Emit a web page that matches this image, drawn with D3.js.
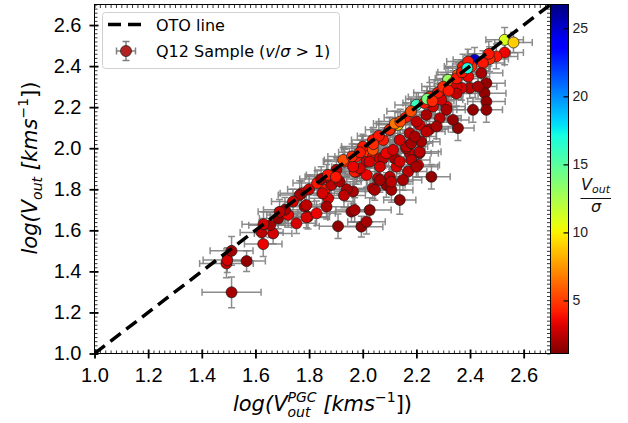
<!DOCTYPE html>
<html>
<head>
<meta charset="utf-8">
<script src="https://cdn.jsdelivr.net/npm/d3@7"></script>
<style>
  body { margin: 0; background: #fff; }
  svg { font-family: 'DejaVu Sans', sans-serif; }
</style>
</head>
<body>
<svg id="chart" width="628" height="423"></svg>
<script>
// log(V_out^PGC) per galaxy
const logVpgc = [
  1.511, 1.492, 1.495, 1.511, 1.567, 1.629, 1.623, 1.666, 1.655, 1.685,
  1.722, 1.753, 1.784, 1.796, 1.772, 1.710, 1.765, 1.790, 1.790, 1.828,
  1.858, 1.871, 1.865, 1.883, 1.914, 1.908, 1.865, 1.902, 1.933, 1.927,
  1.800, 1.830, 1.845, 1.964, 1.958, 1.970, 1.995, 2.014, 2.026, 1.976,
  2.014, 2.038, 2.057, 2.088, 2.107, 2.101, 2.126, 2.138, 2.169, 2.206,
  2.014, 1.970, 1.989, 2.045, 1.976, 2.001, 2.020, 2.038, 2.038, 2.026,
  1.964, 2.064, 2.076, 2.119, 2.175, 2.212, 2.064, 2.064, 2.107, 2.150,
  2.138, 2.181, 2.200, 2.162, 2.212, 2.218, 2.256, 2.088, 2.001, 2.038,
  2.076, 2.131, 2.200, 2.318, 2.417, 2.529, 2.562, 2.529, 2.498, 2.473,
  2.448, 2.405, 2.442, 2.461, 2.454, 2.461, 2.461, 2.411, 2.355, 2.393,
  2.399, 2.430, 2.368, 2.336, 2.355, 2.374, 2.393, 2.262, 2.349, 2.212,
  2.175, 2.113, 2.162, 2.249, 2.287, 2.312, 2.287, 2.249, 2.237, 2.200,
  2.138, 2.101, 2.181, 2.237, 2.275, 2.312, 2.293, 2.349, 2.336, 2.194,
  1.740, 1.870, 1.960, 1.990, 2.060, 2.100, 2.120, 2.160, 2.180, 2.230,
  2.250, 2.280, 2.300, 2.350, 2.370, 2.390, 2.470, 2.240, 1.940, 1.930,
  1.850, 1.690, 1.630, 1.900, 2.040, 2.140, 2.260, 2.320
]
// log(V_out)
const logVout = [
  1.298, 1.439, 1.455, 1.500, 1.450, 1.533, 1.590, 1.585, 1.625, 1.658,
  1.675, 1.634, 1.715, 1.666, 1.780, 1.700, 1.772, 1.723, 1.663, 1.683,
  1.797, 1.756, 1.715, 1.821, 1.837, 1.620, 1.861, 1.894, 1.935, 1.943,
  1.800, 1.830, 1.850, 1.789, 1.691, 1.699, 1.618, 1.642, 1.699, 1.885,
  1.870, 1.805, 1.854, 1.821, 1.797, 1.861, 1.910, 1.748, 1.886, 1.918,
  1.934, 1.886, 1.902, 1.797, 1.959, 2.000, 1.983, 1.959, 2.040, 1.935,
  1.910, 1.951, 1.951, 1.951, 1.976, 1.976, 1.910, 1.845, 1.837, 1.845,
  1.935, 1.943, 1.910, 2.000, 1.983, 2.032, 1.861, 1.976, 2.008, 1.992,
  2.040, 2.114, 2.211, 2.333, 2.431, 2.528, 2.515, 2.466, 2.447, 2.434,
  2.415, 2.398, 2.366, 2.317, 2.268, 2.227, 2.187, 2.187, 2.098, 2.349,
  2.293, 2.300, 2.293, 2.317, 2.358, 2.398, 2.422, 2.203, 2.300, 2.114,
  2.073, 1.992, 2.008, 2.092, 2.146, 2.203, 2.252, 2.227, 2.162, 2.130,
  2.040, 2.089, 2.024, 2.081, 2.106, 2.187, 2.236, 2.266, 2.138, 2.057,
  1.740, 1.870, 1.960, 1.980, 2.060, 2.090, 2.120, 2.150, 2.180, 2.220,
  2.250, 2.270, 2.300, 2.340, 2.370, 2.390, 2.460, 2.240, 1.800, 1.770,
  1.780, 1.690, 1.630, 1.860, 2.020, 2.130, 2.230, 2.280
]
// V_out / sigma
const ratio = [
  2.0, 2.5, 3.0, 2.0, 1.5, 3.5, 2.5, 3.0, 2.0, 1.5,
  3.5, 3.0, 2.0, 3.0, 3.5, 2.0, 2.0, 2.5, 3.0, 3.5,
  4.0, 3.0, 2.0, 2.5, 2.0, 1.5, 3.0, 2.5, 4.5, 5.5,
  3.0, 4.0, 2.0, 2.0, 1.5, 2.0, 1.5, 2.0, 1.5, 3.0,
  3.5, 2.5, 3.0, 1.5, 2.0, 2.5, 3.0, 1.5, 2.5, 3.0,
  3.0, 4.0, 3.0, 2.0, 4.0, 5.5, 5.0, 4.0, 4.0, 3.0,
  3.5, 3.0, 2.5, 2.0, 2.5, 2.0, 3.0, 2.0, 2.5, 2.0,
  3.0, 2.5, 2.0, 3.0, 2.5, 2.0, 1.5, 3.5, 4.0, 5.5,
  4.0, 9.0, 16.0, 13.0, 25.0, 11.0, 9.0, 3.5, 4.0, 4.5,
  4.0, 4.5, 2.0, 1.5, 1.5, 1.5, 1.5, 1.5, 1.5, 3.5,
  2.5, 2.0, 3.0, 6.5, 6.0, 4.0, 4.0, 3.0, 3.0, 3.0,
  2.5, 3.0, 2.5, 2.0, 2.5, 3.5, 4.0, 3.0, 2.0, 2.5,
  3.0, 4.0, 2.0, 2.5, 2.0, 2.0, 3.0, 2.5, 1.5, 2.0,
  3.0, 4.0, 4.5, 4.0, 4.0, 4.5, 6.5, 4.0, 5.5, 4.0,
  4.5, 4.0, 4.5, 4.0, 4.0, 17.0, 4.0, 14.0, 2.0, 2.5,
  3.0, 2.5, 3.0, 4.0, 4.5, 5.5, 4.5, 4.0
]
const errPgc = [
  .11, .10, .09, .08, .07, .07, .08, .07, .08, .07,
  .08, .07, .08, .08, .08, .08, .08, .07, .08, .07,
  .08, .07, .08, .07, .08, .07, .08, .08, .08, .07,
  .08, .09, .08, .07, .08, .07, .08, .07, .08, .07,
  .08, .07, .08, .07, .08, .07, .08, .06, .07, .08,
  .07, .08, .07, .07, .08, .08, .07, .08, .08, .07,
  .08, .07, .08, .07, .08, .07, .08, .07, .08, .07,
  .08, .07, .08, .07, .08, .07, .07, .08, .08, .07,
  .08, .08, .08, .07, .08, .07, .07, .07, .08, .07,
  .08, .07, .08, .07, .08, .07, .06, .06, .06, .08,
  .07, .07, .08, .07, .08, .07, .08, .07, .08, .07,
  .08, .07, .08, .07, .08, .07, .08, .07, .08, .07,
  .08, .07, .08, .07, .08, .07, .08, .07, .06, .08,
  .08, .08, .09, .08, .08, .09, .08, .08, .09, .08,
  .08, .09, .08, .08, .09, .08, .08, .08, .07, .08,
  .07, .08, .08, .08, .08, .08, .08, .08
]
const errOut = [
  .075, .07, .06, .07, .05, .06, .06, .05, .06, .05,
  .06, .05, .06, .06, .06, .06, .07, .06, .05, .06,
  .06, .05, .06, .06, .06, .06, .06, .06, .06, .06,
  .07, .06, .06, .06, .05, .06, .05, .06, .06, .06,
  .06, .05, .06, .06, .06, .05, .06, .07, .06, .06,
  .06, .06, .06, .05, .06, .06, .06, .05, .06, .06,
  .06, .06, .05, .06, .06, .05, .06, .06, .06, .05,
  .06, .06, .05, .06, .06, .06, .06, .06, .06, .06,
  .06, .06, .06, .06, .06, .06, .05, .06, .06, .06,
  .06, .06, .05, .06, .06, .05, .06, .06, .06, .06,
  .05, .06, .06, .06, .06, .06, .06, .06, .05, .06,
  .06, .06, .05, .06, .06, .06, .06, .05, .06, .06,
  .06, .06, .05, .06, .06, .06, .05, .06, .06, .06,
  .06, .07, .06, .06, .07, .06, .06, .07, .06, .06,
  .07, .06, .06, .07, .06, .06, .06, .06, .06, .06,
  .05, .06, .06, .06, .06, .06, .06, .06
]

const axisTicks = [1.0, 1.2, 1.4, 1.6, 1.8, 2.0, 2.2, 2.4, 2.6]
const cbarTicks = [5, 10, 15, 20, 25]
const cbarDomain = [1.1, 26.75]

const data = logVpgc.map((d, i) => ({
  x: d, y: logVout[i], r: ratio[i], ex: errPgc[i], ey: errOut[i]
}))

// matplotlib 'jet' segments, used reversed (jet_r)
const jetR = d3.scaleLinear().domain([0, 0.35, 0.66, 0.89, 1]).range([0, 0, 1, 1, 0.5]).clamp(true)
const jetG = d3.scaleLinear().domain([0, 0.125, 0.375, 0.64, 0.91, 1]).range([0, 0, 1, 1, 0, 0]).clamp(true)
const jetB = d3.scaleLinear().domain([0, 0.11, 0.34, 0.65, 1]).range([0.5, 1, 1, 0, 0]).clamp(true)
const jet = t => d3.rgb(255 * jetR(t), 255 * jetG(t), 255 * jetB(t)).formatHex()
const norm = d3.scaleLinear().domain(cbarDomain).range([0, 1]).clamp(true)
const colorOf = v => jet(1 - norm(v))

const svg = d3.select('#chart')
const pL = 94.5
const pR = 550.5
const pT = 4.5
const pB = 353.5

const x = d3.scaleLinear().domain([1.0, 2.7]).range([pL, pR])
const y = d3.scaleLinear().domain([1.0, 2.7]).range([pB, pT])
const minor = d3.range(50, 136).map(i => i / 50)

svg.append('defs').append('clipPath').attr('id', 'plotclip')
  .append('rect').attr('x', pL).attr('y', pT).attr('width', pR - pL).attr('height', pB - pT)

const plot = svg.append('g').attr('clip-path', 'url(#plotclip)')

// error bars
const gErr = plot.append('g')
  .attr('stroke', '#808080').attr('stroke-opacity', 0.9).attr('stroke-width', 1.5).attr('fill', 'none')
const cap = 3.5
data.forEach(d => {
  const cx = x(d.x)
  const cy = y(d.y)
  const x0 = x(d.x - d.ex)
  const x1 = x(d.x + d.ex)
  const y0 = y(d.y - d.ey)
  const y1 = y(d.y + d.ey)
  gErr.append('path').attr('d',
    `M${x0},${cy}H${x1}M${cx},${y0}V${y1}` +
    `M${x0},${cy - cap}V${cy + cap}M${x1},${cy - cap}V${cy + cap}` +
    `M${cx - cap},${y0}H${cx + cap}M${cx - cap},${y1}H${cx + cap}`)
})

// markers
plot.append('g').selectAll('circle')
  .data(data)
  .enter()
  .append('circle')
  .attr('cx', d => x(d.x))
  .attr('cy', d => y(d.y))
  .attr('r', 5.5)
  .attr('fill', d => colorOf(d.r))
  .attr('stroke', '#1a1a1a')
  .attr('stroke-width', 0.7)

// one-to-one line
plot.append('line')
  .attr('x1', x(1.0)).attr('y1', y(1.0))
  .attr('x2', x(2.7)).attr('y2', y(2.7))
  .attr('stroke', '#000').attr('stroke-width', 3.5)
  .attr('stroke-dasharray', '13,7')

// axes
const styleAxis = (g, w) => {
  g.select('.domain').remove()
  g.selectAll('line').attr('stroke', '#000').attr('stroke-width', w)
  g.selectAll('text').attr('font-size', 20).attr('fill', '#000')
}
const fmt = d3.format('.1f')

svg.append('g').attr('transform', `translate(0,${pB})`)
  .call(d3.axisBottom(x).tickValues(axisTicks).tickSize(5).tickPadding(9).tickFormat(fmt))
  .call(g => styleAxis(g, 1.8))
svg.append('g').attr('transform', `translate(0,${pB})`)
  .call(d3.axisBottom(x).tickValues(axisTicks).tickSize(-4).tickFormat(''))
  .call(g => styleAxis(g, 1.8))
svg.append('g').attr('transform', `translate(0,${pB})`)
  .call(d3.axisBottom(x).tickValues(minor).tickSize(-3).tickFormat(''))
  .call(g => styleAxis(g, 0.8))

svg.append('g').attr('transform', `translate(${pL},0)`)
  .call(d3.axisLeft(y).tickValues(axisTicks).tickSize(5).tickPadding(8).tickFormat(fmt))
  .call(g => styleAxis(g, 1.8))
svg.append('g').attr('transform', `translate(${pL},0)`)
  .call(d3.axisLeft(y).tickValues(axisTicks).tickSize(-4).tickFormat(''))
  .call(g => styleAxis(g, 1.8))
svg.append('g').attr('transform', `translate(${pL},0)`)
  .call(d3.axisLeft(y).tickValues(minor).tickSize(-3).tickFormat(''))
  .call(g => styleAxis(g, 0.8))

svg.append('g').attr('transform', `translate(0,${pT})`)
  .call(d3.axisTop(x).tickValues(minor).tickSize(-3.5).tickFormat(''))
  .call(g => styleAxis(g, 0.8))
svg.append('g').attr('transform', `translate(${pR},0)`)
  .call(d3.axisRight(y).tickValues(minor).tickSize(-3.5).tickFormat(''))
  .call(g => styleAxis(g, 0.8))

svg.append('rect')
  .attr('x', pL).attr('y', pT).attr('width', pR - pL).attr('height', pB - pT)
  .attr('fill', 'none').attr('stroke', '#000').attr('stroke-width', 1)

// colorbar
const cbX = pR
const cbW = 18
const grad = svg.select('defs').append('linearGradient')
  .attr('id', 'cbgrad').attr('x1', 0).attr('y1', 1).attr('x2', 0).attr('y2', 0)
d3.range(0, 41).forEach(i => {
  grad.append('stop').attr('offset', i / 40).attr('stop-color', jet(1 - i / 40))
})
svg.append('rect')
  .attr('x', cbX).attr('y', pT).attr('width', cbW).attr('height', pB - pT)
  .attr('fill', 'url(#cbgrad)').attr('stroke', '#000').attr('stroke-width', 1)
const cScale = d3.scaleLinear().domain(cbarDomain).range([pB, pT])
svg.append('g').attr('transform', `translate(${cbX + cbW},0)`)
  .call(d3.axisRight(cScale).tickValues(cbarTicks).tickSize(-5).tickPadding(4))
  .call(g => {
    g.select('.domain').remove()
    g.selectAll('line').attr('stroke', '#000').attr('stroke-width', 1.2)
    g.selectAll('text').attr('font-size', 14).attr('fill', '#222')
  })

// colorbar label V_out / sigma
const cbl = svg.append('g').attr('font-style', 'italic').attr('fill', '#111')
const vt = cbl.append('text').attr('x', 581).attr('y', 190).attr('font-size', 16)
vt.append('tspan').text('V')
vt.append('tspan').attr('font-size', 11).attr('dy', 3).text('out')
cbl.append('line').attr('x1', 580.5).attr('x2', 611).attr('y1', 198.5).attr('y2', 198.5)
  .attr('stroke', '#111').attr('stroke-width', 1)
cbl.append('text').attr('x', 596).attr('y', 212).attr('font-size', 16)
  .attr('text-anchor', 'middle').text('σ')

// x label
const xl = svg.append('text').attr('font-size', 21).attr('font-style', 'italic').attr('fill', '#000')
  .attr('x', 0).attr('y', 411)
xl.append('tspan').text('log(V')
const tP = xl.append('tspan').attr('font-size', 14).attr('dy', -9).text('PGC')
const tO = xl.append('tspan').attr('font-size', 14).attr('dy', 15).text('out')
const wP = tP.node().getComputedTextLength()
const wO = tO.node().getComputedTextLength()
tO.attr('dx', -wP)
xl.append('tspan').attr('dy', -6).attr('dx', Math.max(wP - wO, 0)).text(' [kms')
xl.append('tspan').attr('font-size', 14).attr('dy', -9).attr('font-style', 'normal').text('−1')
xl.append('tspan').attr('dy', 9).attr('font-style', 'normal').text('])')
const xb = xl.node().getBBox()
xl.attr('x', 322.5 - xb.width / 2)

// y label
const yl = svg.append('text').attr('font-size', 21).attr('font-style', 'italic').attr('fill', '#000')
  .attr('text-anchor', 'middle')
  .attr('transform', 'translate(37,168) rotate(-90)')
yl.append('tspan').text('log(V')
yl.append('tspan').attr('font-size', 14).attr('dy', 5).text('out')
yl.append('tspan').attr('dy', -5).text(' [kms')
yl.append('tspan').attr('font-size', 14).attr('dy', -9).attr('font-style', 'normal').text('−1')
yl.append('tspan').attr('dy', 9).attr('font-style', 'normal').text('])')

// legend
const lg = svg.append('g')
lg.append('rect').attr('x', 102.5).attr('y', 12.5).attr('width', 237).attr('height', 56).attr('rx', 3)
  .attr('fill', '#fff').attr('fill-opacity', 0.85).attr('stroke', '#d0d0d0').attr('stroke-width', 1)
lg.append('line').attr('x1', 108).attr('x2', 142).attr('y1', 24.5).attr('y2', 24.5)
  .attr('stroke', '#000').attr('stroke-width', 3.5).attr('stroke-dasharray', '13,7')
lg.append('text').attr('x', 156).attr('y', 30.5).attr('font-size', 16).text('OTO line')
lg.append('path')
  .attr('d', 'M116.5,51H135.5M126,41.5V60.5M116.5,47.5V54.5M135.5,47.5V54.5M122.5,41.5H129.5M122.5,60.5H129.5')
  .attr('stroke', '#808080').attr('stroke-width', 1.5).attr('fill', 'none')
lg.append('circle').attr('cx', 126).attr('cy', 51).attr('r', 5.5)
  .attr('fill', '#b22222').attr('stroke', '#1a1a1a').attr('stroke-width', 0.7)
const lt = lg.append('text').attr('x', 156).attr('y', 56.5).attr('font-size', 16)
lt.append('tspan').text('Q12 Sample (')
lt.append('tspan').attr('font-style', 'italic').text('v')
lt.append('tspan').text('/')
lt.append('tspan').attr('font-style', 'italic').text('σ')
lt.append('tspan').text(' > 1)')
</script>
</body>
</html>
